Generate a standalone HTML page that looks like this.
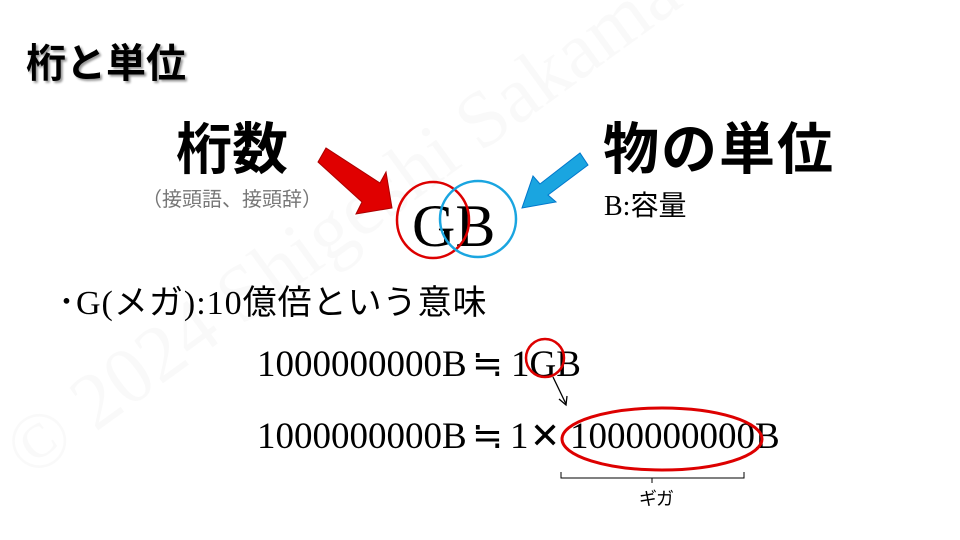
<!DOCTYPE html>
<html><head><meta charset="utf-8"><style>
body{margin:0;width:960px;height:540px;background:#fff;position:relative;overflow:hidden;font-family:"Liberation Sans","Noto Sans CJK JP",sans-serif}
.a{position:absolute;white-space:nowrap;line-height:1}
.s{font-family:"Liberation Serif","Noto Sans CJK JP",serif}
.n{font-family:"Liberation Serif",serif;font-size:37px}
</style></head><body>
<div class="a" style="left:26px;top:44px;font-size:40px;font-weight:bold;text-shadow:2px 2px 2px #999">桁と単位</div>
<div class="a" style="left:176px;top:122px;font-size:56px;font-weight:bold">桁数</div>
<div class="a" style="left:142px;top:190px;font-size:20px;color:#777">（接頭語、接頭辞）</div>
<div class="a" style="left:603px;top:122px;font-size:56px;font-weight:bold;letter-spacing:2px">物の単位</div>
<div class="a s" style="left:604px;top:193px;font-size:28px">B:容量</div>
<div class="a s" style="left:412px;top:196px;font-size:60px">GB</div>
<div class="a s" style="left:58px;top:287px;font-size:34px;letter-spacing:1px">･G(メガ):10億倍という意味</div>
<div class="a n" style="left:257px;top:346px">1000000000B</div>
<div class="a n" style="left:472px;top:346px">≒</div>
<div class="a n" style="left:511px;top:346px">1GB</div>
<div class="a n" style="left:257px;top:418px">1000000000B</div>
<div class="a n" style="left:472px;top:418px">≒</div>
<div class="a n" style="left:510px;top:418px">1</div>
<div class="a" style="left:530px;top:418px;font-size:36px">✕</div>
<div class="a n" style="left:570px;top:418px">1000000000B</div>
<div class="a" style="left:639px;top:490px;font-size:18px;letter-spacing:-1px">ギガ</div>
<svg width="960" height="540" style="position:absolute;left:0;top:0">
<text x="30" y="480" transform="rotate(-36 30 480)" font-family="Liberation Serif" font-size="80" fill="#000" fill-opacity="0.025">© 2024 Shigeshi Sakamataka</text>
<polygon points="318,162 326,148 380,183 386,172 392,208 356,214 362,202" fill="#e00000" stroke="#a00" stroke-width="1"/>
<polygon points="588,165 580,153 540,184 533,176 522,208 556,202 548,195" fill="#1aa5e0" stroke="#07c" stroke-width="1"/>
<ellipse cx="433" cy="220" rx="36" ry="38" fill="none" stroke="#d00" stroke-width="2.5"/>
<ellipse cx="478" cy="219" rx="38" ry="38" fill="none" stroke="#1aa5e0" stroke-width="2.5"/>
<circle cx="545" cy="358" r="19" fill="none" stroke="#d00" stroke-width="2.5"/>
<line x1="553" y1="377" x2="566" y2="404" stroke="#000" stroke-width="1.3"/>
<polyline points="559,399 566,405 567,396" fill="none" stroke="#000" stroke-width="1.3"/>
<ellipse cx="662" cy="439" rx="100" ry="31" fill="none" stroke="#d00" stroke-width="3"/>
<path d="M561,472 V478 H744 V472 M652,478 V483" fill="none" stroke="#000" stroke-width="1"/>
</svg>
</body></html>
